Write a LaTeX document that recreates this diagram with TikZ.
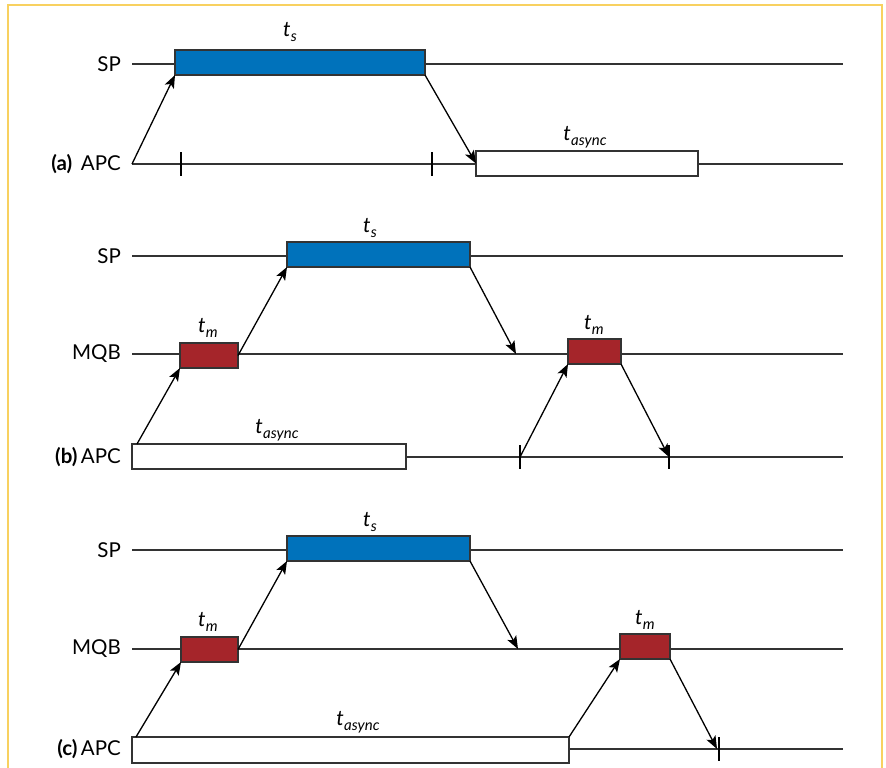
\documentclass[tikz,border=0pt]{standalone}
\usepackage{fontspec}
\setmainfont{Lato}
\usetikzlibrary{arrows.meta,calc}
\definecolor{spblue}{HTML}{0072BB}
\definecolor{mqred}{HTML}{A5252A}
\definecolor{frameyellow}{HTML}{F8D160}
\definecolor{linegray}{HTML}{333333}
\newcommand\tlab[1]{\textit{t}\kern0.3pt\raisebox{-0.45ex}{\fontsize{15}{15}\selectfont\textit{#1}}}
\begin{document}
\begin{tikzpicture}[x=1pt,y=-1pt,
  tline/.style={draw=linegray,line width=1.5pt},
  boxbase/.style={draw=linegray,line width=1.6pt,inner sep=0pt,outer sep=0pt,anchor=north west},
  spbox/.style={boxbase,fill=spblue},
  mqbox/.style={boxbase,fill=mqred},
  asbox/.style={boxbase,fill=white},
  msg/.style={draw=black,line width=1.3pt,-{Stealth[length=13pt,width=10pt,inset=3pt]}},
  tickmark/.style={draw=black,line width=1.3pt},
  lane/.style={anchor=east,font=\fontsize{20.5}{20.5}\selectfont,inner sep=0pt},
  tlabel/.style={font=\fontsize{21}{21}\selectfont,inner sep=0pt}]
\useasboundingbox (0,0) rectangle (886,768);
\fill[white] (0,0) rectangle (886,768);
\draw[frameyellow,line width=1.6pt] (8,772) -- (8,5) -- (882,5) -- (882,772);

% ---------- (a) ----------
\coordinate (aS0) at (132,64);  \coordinate (aS1) at (843,64);
\coordinate (aA0) at (132,164); \coordinate (aA1) at (843,164);
\coordinate (aT1) at (181,164); \coordinate (aT2) at (432,164);
\draw[tline] (aS0) -- (aS1);
\draw[tline] (aA0) -- (aA1);
\draw[tickmark] ($(aT1)+(0,-12)$) -- ($(aT1)+(0,12)$);
\draw[tickmark] ($(aT2)+(0,-12)$) -- ($(aT2)+(0,12)$);
\node[spbox,minimum width=250pt,minimum height=25pt] (aS) at (175,50) {};
\node[asbox,minimum width=222pt,minimum height=25pt] (aAs) at (476,151) {};
\node[lane] (aSPl) at (121,64) {SP};
\node[lane] (aAPl) at (121,164) {\textbf{(a)}\, APC};
\node[tlabel] (aSt) at (290,32) {\tlab{s}};
\node[tlabel] (aAt) at (585,137) {\tlab{async}};
\draw[msg] (aA0) -- (aS.south west);
\draw[msg] (aS.south east) -- (aAs.west);

% ---------- (b) ----------
\coordinate (bS0) at (132,256); \coordinate (bS1) at (843,256);
\coordinate (bM0) at (132,354); \coordinate (bM1) at (843,354);
\coordinate (bA0) at (132,457); \coordinate (bA1) at (843,457);
\coordinate (bT1) at (520,457); \coordinate (bT2) at (669,457);
\coordinate (bMx) at (516,354);
\draw[tline] (bS0) -- (bS1);
\draw[tline] (bM0) -- (bM1);
\draw[tline] (bA0) -- (bA1);
\draw[tickmark] ($(bT1)+(0,-12)$) -- ($(bT1)+(0,12)$);
\draw[tickmark] ($(bT2)+(0,-12)$) -- ($(bT2)+(0,12)$);
\node[spbox,minimum width=183pt,minimum height=25pt] (bS) at (287,242) {};
\node[mqbox,minimum width=58pt,minimum height=25pt] (bMa) at (180,343) {};
\node[mqbox,minimum width=53pt,minimum height=25pt] (bMb) at (568,339) {};
\node[asbox,minimum width=274pt,minimum height=25pt] (bAs) at (132,444) {};
\node[lane] (bSPl) at (121,256) {SP};
\node[lane] (bMQl) at (121,354) {MQB};
\node[lane] (bAPl) at (121,457) {\textbf{(b)}\,APC};
\node[tlabel] (bSt) at (370,228) {\tlab{s}};
\node[tlabel] (bMat) at (208,328) {\tlab{m}};
\node[tlabel] (bMbt) at (594,325) {\tlab{m}};
\node[tlabel] (bAt) at (277,430) {\tlab{async}};
\draw[msg] ($(bAs.north west)+(5,0)$) -- (bMa.south west);
\draw[msg] (bMa.east) -- (bS.south west);
\draw[msg] (bS.south east) -- (bMx);
\draw[msg] (bT1) -- (bMb.south west);
\draw[msg] (bMb.south east) -- (bT2);

% ---------- (c) ----------
\coordinate (cS0) at (132,550); \coordinate (cS1) at (843,550);
\coordinate (cM0) at (132,649); \coordinate (cM1) at (843,649);
\coordinate (cA0) at (132,749); \coordinate (cA1) at (843,749);
\coordinate (cT1) at (719,749);
\coordinate (cMx) at (518,649);
\draw[tline] (cS0) -- (cS1);
\draw[tline] (cM0) -- (cM1);
\draw[tline] (cA0) -- (cA1);
\draw[tickmark] ($(cT1)+(0,-12)$) -- ($(cT1)+(0,12)$);
\node[spbox,minimum width=183pt,minimum height=25pt] (cS) at (287,536) {};
\node[mqbox,minimum width=57pt,minimum height=25pt] (cMa) at (181,637) {};
\node[mqbox,minimum width=50pt,minimum height=25pt] (cMb) at (620,634) {};
\node[asbox,minimum width=437pt,minimum height=26pt] (cAs) at (132,737) {};
\node[lane] (cSPl) at (121,550) {SP};
\node[lane] (cMQl) at (121,649) {MQB};
\node[lane] (cAPl) at (121,749) {\textbf{(c)}\,APC};
\node[tlabel] (cSt) at (370,522) {\tlab{s}};
\node[tlabel] (cMat) at (208,622) {\tlab{m}};
\node[tlabel] (cMbt) at (645,620) {\tlab{m}};
\node[tlabel] (cAt) at (358,722) {\tlab{async}};
\draw[msg] ($(cAs.north west)+(4,0)$) -- (cMa.south west);
\draw[msg] (cMa.east) -- (cS.south west);
\draw[msg] (cS.south east) -- (cMx);
\draw[msg] (cAs.north east) -- (cMb.south west);
\draw[msg] (cMb.south east) -- ($(cT1)+(-2,0)$);
\end{tikzpicture}
\end{document}
